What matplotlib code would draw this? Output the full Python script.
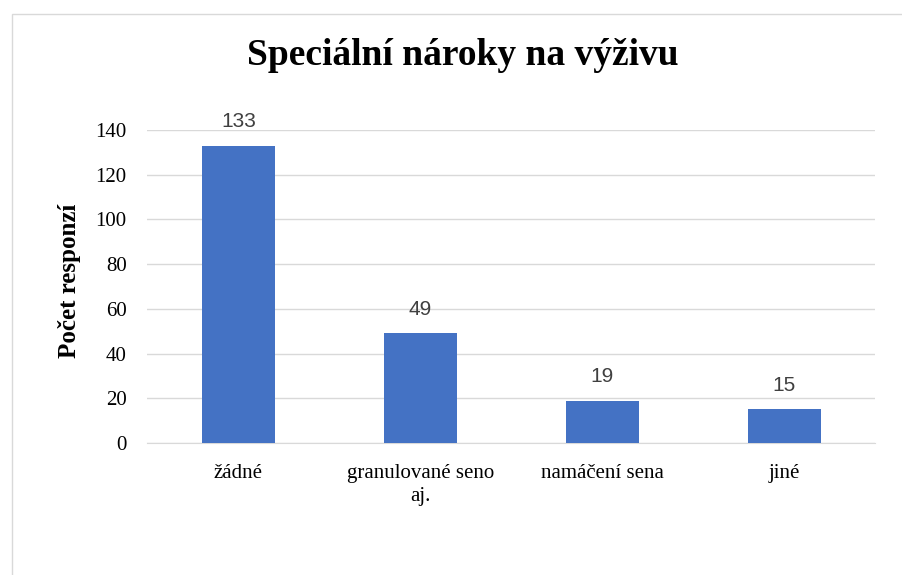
import matplotlib.pyplot as plt
from matplotlib.patches import Rectangle

categories = ["žádné", "granulované seno\naj.", "namáčení sena", "jiné"]
values = [133, 49, 19, 15]
yticks = [0, 20, 40, 60, 80, 100, 120, 140]

serif = "Liberation Serif"
sans = "Liberation Sans"
blue = "#4472C4"

fig = plt.figure(figsize=(9.03, 5.75), dpi=100)
fig.patches.append(Rectangle((12 / 903, -0.1), 1.5, (575 - 14) / 575 + 0.1,
                             transform=fig.transFigure, fill=False,
                             edgecolor="#d9d9d9", linewidth=1))

ax = fig.add_axes([147.5 / 903, 1 - 443 / 575, 728 / 903, 313 / 575])
x = range(len(categories))
bars = ax.bar(x, values, width=0.4, color=blue, zorder=3)
ax.set_xlim(-0.5, len(categories) - 0.5)
ax.set_ylim(0, 140)
ax.set_yticks(yticks)
ax.set_xticks(list(x))
ax.set_xticklabels(categories, fontfamily=serif, fontsize=15, linespacing=1.3)
ax.set_yticklabels([str(t) for t in yticks], fontfamily=serif, fontsize=15)
ax.tick_params(axis="y", length=0, pad=15)
ax.tick_params(axis="x", length=0, pad=15)
ax.grid(axis="y", color="#d9d9d9", linewidth=1, zorder=0)
for s in ["top", "right", "left"]:
    ax.spines[s].set_visible(False)
ax.spines["bottom"].set_color("#d9d9d9")

for b, v in zip(bars, values):
    ax.annotate(str(v), (b.get_x() + b.get_width() / 2, v), xytext=(0, 13.5),
                textcoords="offset points", ha="center", va="baseline",
                fontfamily=sans, fontsize=15, color="#404040")

ax.set_ylabel("Počet responzí", fontfamily=serif, fontsize=18,
              fontweight="bold", va="center")
ax.yaxis.set_label_coords((70 - 147.5) / 728, (443 - 281) / 313)
fig.text(463 / 903, 1 - 65 / 575, "Speciální nároky na výživu", ha="center",
         va="baseline", fontfamily=serif, fontsize=27, fontweight="bold")

fig.savefig("out.png", dpi=100)
